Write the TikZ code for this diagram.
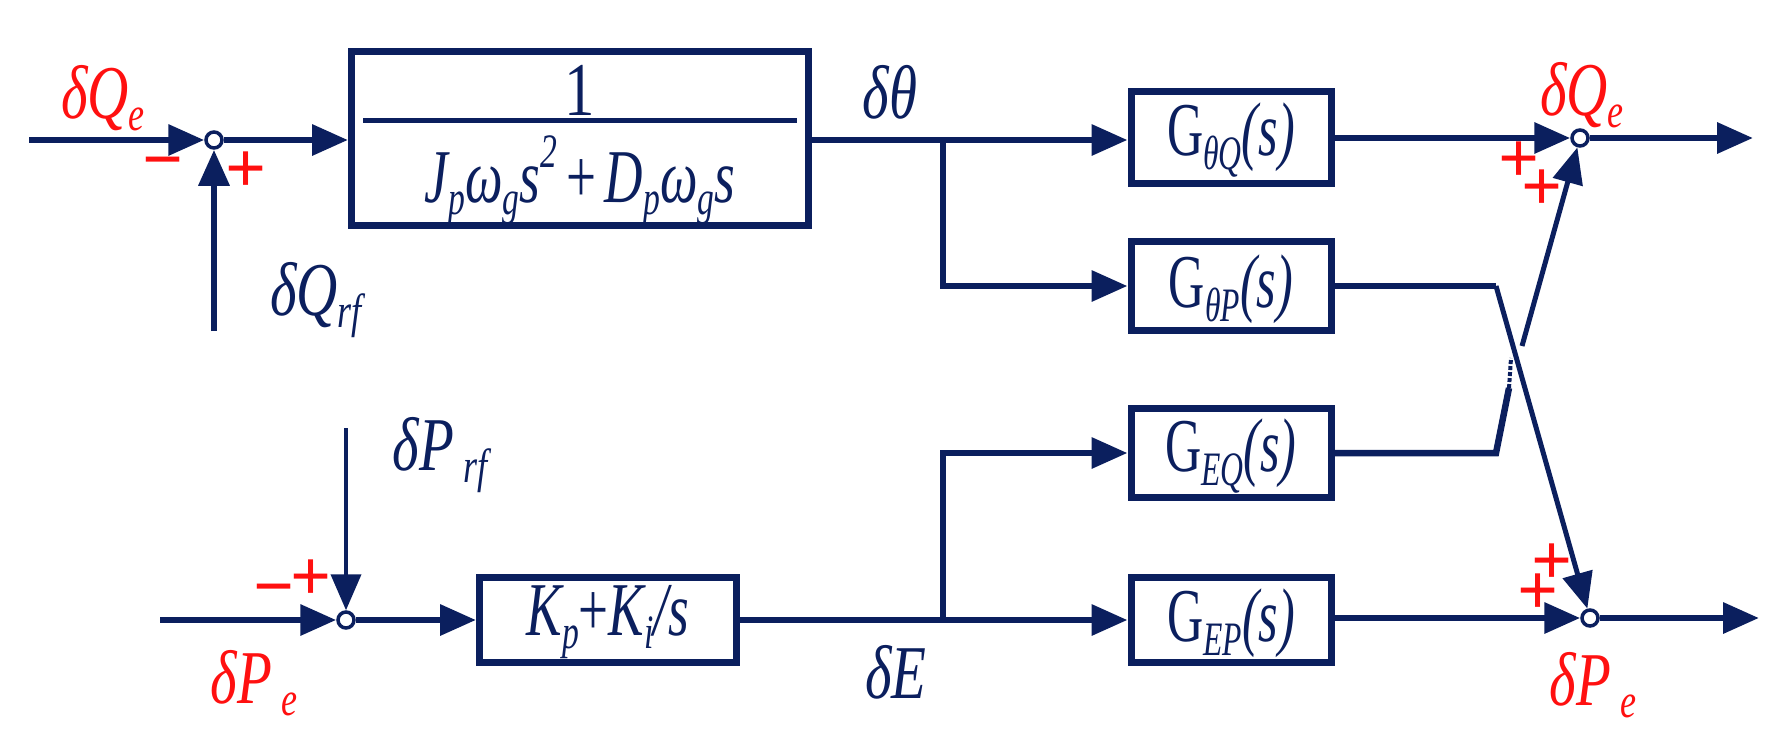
\documentclass[tikz,border=0pt]{standalone}
\usepackage{fontspec}
\setmainfont{Liberation Serif}
\usetikzlibrary{arrows.meta}
\definecolor{nv}{HTML}{0B1F5E}
\definecolor{rd}{HTML}{FF1010}
\newcommand{\sbs}[1]{\raisebox{-0.35ex}{\fontsize{48}{48}\selectfont #1}}
\begin{document}
\begin{tikzpicture}[x=1pt,y=-1pt,
  ln/.style={draw=nv,line width=6.5pt},
  ar/.style={ln,-{Triangle[length=36pt,width=30pt]}},
  blk/.style={draw=nv,line width=7pt,inner sep=0pt},
  sj/.style={circle,draw=nv,line width=3.5pt,minimum size=16pt,inner sep=0pt,fill=white},
  tx/.style={text=nv,font=\fontsize{76}{76}\selectfont\itshape,inner sep=0pt},
  rt/.style={text=rd,font=\fontsize{76}{76}\selectfont\itshape,inner sep=0pt},
  sg/.style={text=rd,font=\fontsize{72}{72}\selectfont\bfseries,inner sep=0pt}]
\useasboundingbox (0,0) rectangle (1782,750);
% blocks
\node[blk,minimum width=457pt,minimum height=174pt] (B1) at (580,138) {};
\node[blk,minimum width=200pt,minimum height=92pt] (G1) at (1231,137) {};
\node[blk,minimum width=200pt,minimum height=89pt] (G2) at (1231,286) {};
\node[blk,minimum width=200pt,minimum height=89pt] (G3) at (1231,453) {};
\node[blk,minimum width=200pt,minimum height=85pt] (G4) at (1231,620) {};
\node[blk,minimum width=257pt,minimum height=85pt] (K) at (608,620) {};
% block texts
\node[tx] (one) at (580,90) {\upshape\scalebox{0.8}[1]{1}};
\coordinate (fl) at (363,120); \coordinate (fr) at (797,120);
\draw[ln,line width=5pt] (fl) -- (fr);
\node[tx] (den) at (580,180) {\scalebox{0.7}[1]{J\sbs{p}ω\sbs{g}s\raisebox{1.0ex}{\fontsize{48}{48}\selectfont 2}\,\upshape+\,\itshape D\sbs{p}ω\sbs{g}s}};
\node[tx] (g1t) at (1231,140) {\scalebox{0.66}[1]{\upshape G\raisebox{-0.4ex}{\itshape\fontsize{48}{48}\selectfont θQ}\itshape(s)}};
\node[tx] (g2t) at (1231,289) {\scalebox{0.66}[1]{\upshape G\raisebox{-0.4ex}{\itshape\fontsize{48}{48}\selectfont θP}\itshape(s)}};
\node[tx] (g3t) at (1231,456) {\scalebox{0.66}[1]{\upshape G\raisebox{-0.4ex}{\itshape\fontsize{48}{48}\selectfont EQ}\itshape(s)}};
\node[tx] (g4t) at (1231,623) {\scalebox{0.66}[1]{\upshape G\raisebox{-0.4ex}{\itshape\fontsize{48}{48}\selectfont EP}\itshape(s)}};
\node[tx] (kt) at (608,622) {\scalebox{0.7}[1]{K\sbs{p}\upshape+\itshape K\sbs{i}/s}};
% junctions
\node[sj] (S1) at (214,140) {};
\node[sj] (S2) at (346,620) {};
\node[sj] (S3) at (1580,138) {};
\node[sj] (S4) at (1590,618) {};
\coordinate (in1) at (29,140); \coordinate (in2) at (160,620);
\coordinate (qrf) at (214,331); \coordinate (prf) at (346,428);
\coordinate (o1) at (1753,138); \coordinate (o2) at (1759,618);
\coordinate (br1) at (943,140); \coordinate (br2) at (943,620);
\coordinate (c2) at (1496,286); \coordinate (c3) at (1496,453);
\coordinate (gapb) at (1509,388); \coordinate (gapt) at (1522,346);
% connectors
\draw[ar] (in1) -- (S1);
\draw[ar] (qrf) -- (S1);
\draw[ar] (S1) -- (B1.west|-S1);
\draw[ln] (B1.east|-br1) -- (br1);
\draw[ar] (br1) -- (G1.west|-br1);
\draw[ar] (br1) |- (G2.west);
\draw[ar] (G1.east|-S3) -- (S3);
\draw[ar] (S3) -- (o1);
\draw[ar] (in2) -- (S2);
\draw[ar,line width=4pt] (prf) -- (S2);
\draw[ar] (S2) -- (K.west|-S2);
\draw[ln] (K.east|-br2) -- (br2);
\draw[ar] (br2) -- (G4.west|-br2);
\draw[ar] (br2) |- (G3.west);
\draw[ar] (G4.east|-S4) -- (S4);
\draw[ar] (S4) -- (o2);
\draw[ln] (G2.east) -- (c2);
\draw[ar,line width=5pt] (c2) -- (S4);
\draw[ln] (G3.east) -- (c3) -- (gapb);
\draw[ln,line width=4pt,dotted] (gapb) -- ++(2,-30);
\draw[ar,line width=5pt] (gapt) -- (S3);
% labels
\node[tx] (lth) at (890,92) {\scalebox{0.75}[1]{δθ}};
\node[tx] (lE) at (896,672) {\scalebox{0.75}[1]{δE}};
\node[tx] (lqrf) at (316,300) {\scalebox{0.75}[1]{δQ\sbs{rf}}};
\node[tx] (lprf) at (440,455) {\scalebox{0.75}[1]{δP\sbs{\ rf}}};
\node[rt] (lq1) at (103,98) {\scalebox{0.75}[1]{δQ\sbs{e}}};
\node[rt] (lp1) at (254,683) {\scalebox{0.75}[1]{δP\sbs{\ e}}};
\node[rt] (lq2) at (1582,95) {\scalebox{0.75}[1]{δQ\sbs{e}}};
\node[rt] (lp2) at (1593,685) {\scalebox{0.75}[1]{δP\sbs{\ e}}};
% signs
\node[sg] (m1) at (163,170) {−};
\node[sg] (p1) at (246,172) {+};
\node[sg] (m2) at (274,597) {−};
\node[sg] (p2) at (311,580) {+};
\node[sg] (p3) at (1519,162) {+};
\node[sg] (p4) at (1542,190) {+};
\node[sg] (p5) at (1552,564) {+};
\node[sg] (p6) at (1538,594) {+};
\end{tikzpicture}
\end{document}
